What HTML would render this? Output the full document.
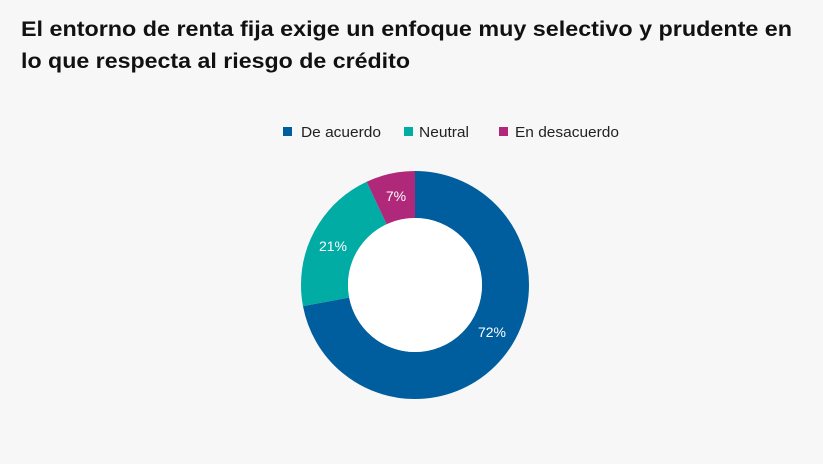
<!DOCTYPE html>
<html><head><meta charset="utf-8"><style>
html,body{margin:0;padding:0;background:#f7f7f7;}
svg{display:block;font-family:"Liberation Sans",sans-serif;}
</style></head><body>
<svg width="823" height="464" viewBox="0 0 823 464">
<rect width="823" height="464" fill="#f7f7f7"/>
<text x="21" y="36" font-size="21" font-weight="bold" fill="#111" textLength="771" lengthAdjust="spacingAndGlyphs">El entorno de renta fija exige un enfoque muy selectivo y prudente en</text>
<text x="21" y="68" font-size="21" font-weight="bold" fill="#111" textLength="389" lengthAdjust="spacingAndGlyphs">lo que respecta al riesgo de crédito</text>
<rect x="283" y="127" width="9" height="9" fill="#005e9e"/>
<text x="301" y="137" font-size="15" fill="#222" textLength="80" lengthAdjust="spacingAndGlyphs">De acuerdo</text>
<rect x="404" y="127" width="9" height="9" fill="#00aca3"/>
<text x="419" y="137" font-size="15" fill="#222" textLength="50" lengthAdjust="spacingAndGlyphs">Neutral</text>
<rect x="499" y="127" width="9" height="9" fill="#b0287a"/>
<text x="515" y="137" font-size="15" fill="#222" textLength="104" lengthAdjust="spacingAndGlyphs">En desacuerdo</text>
<g transform="rotate(-90 415 285)" fill="none" stroke-width="47">
<circle cx="415" cy="285" r="90.5" stroke="#005e9e" stroke-dasharray="409.4 1000"/>
<circle cx="415" cy="285" r="90.5" stroke="#00aca3" stroke-dasharray="0 409.4 119.4 1000"/>
<circle cx="415" cy="285" r="90.5" stroke="#b0287a" stroke-dasharray="0 528.8 39.9 1000"/>
</g>
<circle cx="415" cy="285" r="67" fill="#fff"/>
<g font-size="14" fill="#fff" text-anchor="middle">
<text x="492" y="337">72%</text>
<text x="333" y="251">21%</text>
<text x="396" y="201">7%</text>
</g>
</svg>
</body></html>
